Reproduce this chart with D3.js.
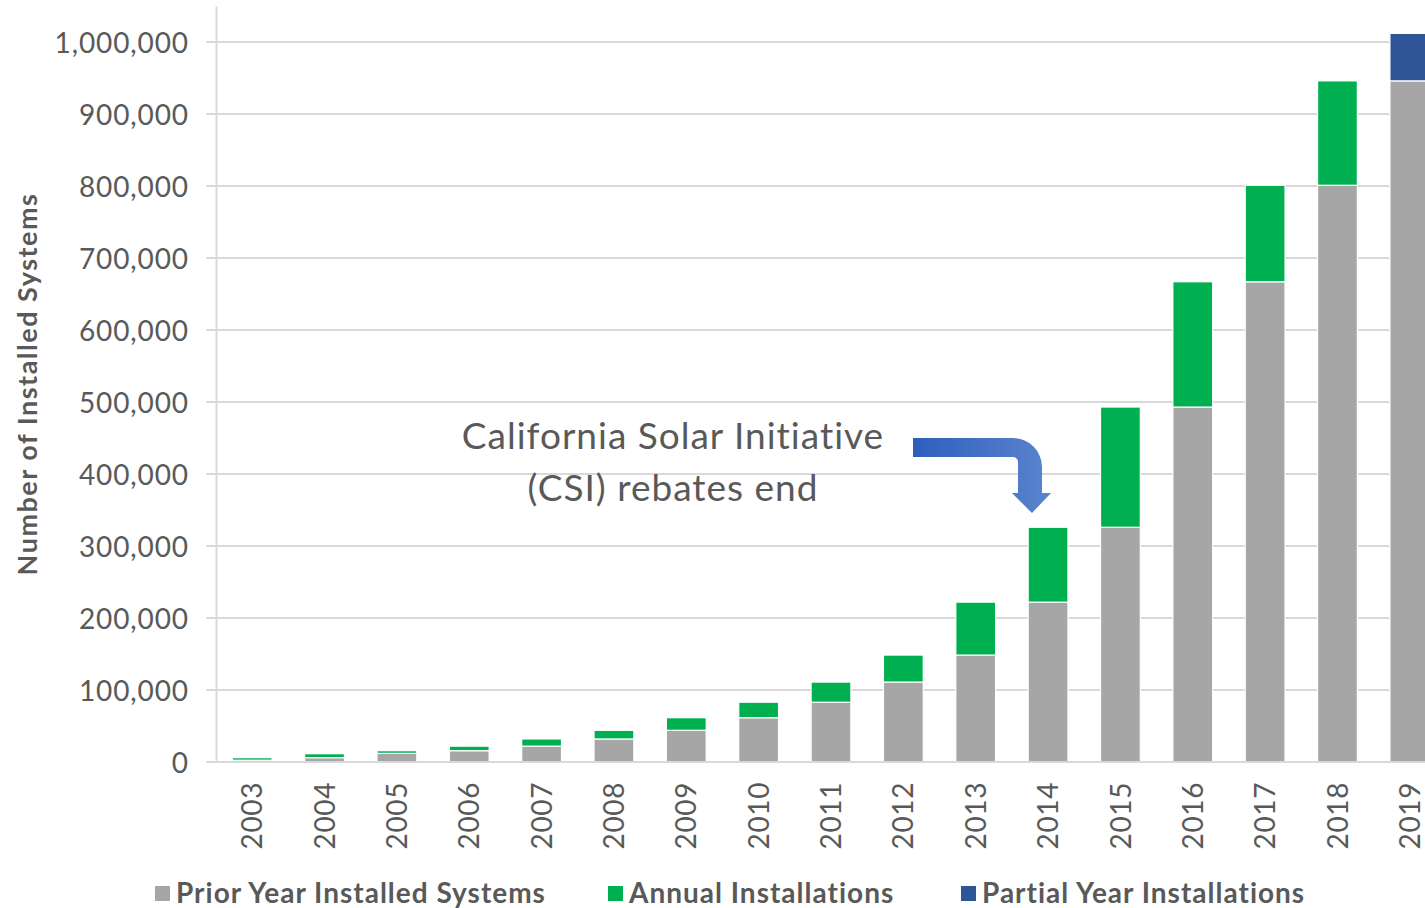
<!DOCTYPE html>
<html>
<head>
<meta charset="utf-8">
<script src="https://cdn.jsdelivr.net/npm/d3@7"></script>
<style>
  html, body { margin: 0; padding: 0; background: #fff; overflow: hidden; }
  svg { display: block; }
</style>
</head>
<body>
<svg id="chart" width="1425" height="908"></svg>
<script>
// ---- data ----
const years = ["2003","2004","2005","2006","2007","2008","2009","2010","2011","2012","2013","2014","2015","2016","2017","2018","2019"];
const priorYear = [2500, 6000, 12000, 15700, 22000, 32000, 44000, 61500, 83000, 111000, 148500, 222000, 326000, 493000, 667000, 801000, 946000];
const annual    = [3500, 5500, 3700, 6300, 10000, 12000, 17500, 21500, 28000, 37500, 73500, 104000, 167000, 174000, 134000, 145000, 0];
const partial   = [0, 0, 0, 0, 0, 0, 0, 0, 0, 0, 0, 0, 0, 0, 0, 0, 66000];
const yTicks = [0, 100000, 200000, 300000, 400000, 500000, 600000, 700000, 800000, 900000, 1000000];
const seriesNames = ["Prior Year Installed Systems", "Annual Installations", "Partial Year Installations"];
const seriesKeys = ["prior", "annual", "partial"];
const seriesColors = ["#a6a6a6", "#00b050", "#2f5597"];

const rows = years.map((y, i) => ({ year: y, prior: priorYear[i], annual: annual[i], partial: partial[i] }));

const svg = d3.select("#chart");
const textColor = "#595959";
const font = "Lato, 'Open Sans', sans-serif";

const x = d3.scaleBand().domain(years).range([216, 1446]).paddingInner(0.45).paddingOuter(0.225);
const y = d3.scaleLinear().domain([0, 1050000]).range([762, 6]);

// gridlines
svg.append("g").selectAll("line").data(yTicks.filter(d => d > 0)).join("line")
  .attr("x1", 206).attr("x2", 1425)
  .attr("y1", d => y(d)).attr("y2", d => y(d))
  .attr("stroke", "#d9d9d9").attr("stroke-width", 2);

// y axis
const yAxis = d3.axisLeft(y).tickValues(yTicks).tickFormat(d3.format(",")).tickSize(0).tickPadding(27);
const gy = svg.append("g").attr("transform", "translate(216,0)").call(yAxis);
gy.select(".domain").attr("stroke", "#d9d9d9").attr("stroke-width", 2);
gy.selectAll("text").attr("font-family", font).attr("font-size", 28).attr("letter-spacing", 0.9)
  .attr("fill", textColor).attr("dy", "0.36em");

// stacked bars
const stack = d3.stack().keys(seriesKeys);
const stacked = stack(rows);
svg.append("g").selectAll("g").data(stacked).join("g")
  .attr("fill", (d, i) => seriesColors[i])
  .selectAll("rect").data(d => d.filter(s => s[1] - s[0] > 0)).join("rect")
  .attr("x", d => x(d.data.year))
  .attr("width", x.bandwidth())
  .attr("y", d => y(d[1]))
  .attr("height", d => y(d[0]) - y(d[1]))
  .attr("stroke", "#ffffff").attr("stroke-width", 1.2);

// x axis
const xAxis = d3.axisBottom(x).tickSize(0).tickPadding(0);
const gx = svg.append("g").attr("transform", "translate(0,762)").call(xAxis);
gx.select(".domain").attr("d", "M206,0H1425").attr("stroke", "#d9d9d9").attr("stroke-width", 2);
gx.selectAll("text")
  .attr("font-family", font).attr("font-size", 28).attr("letter-spacing", 0.6).attr("fill", textColor)
  .attr("transform", "translate(0,20) rotate(-90)")
  .attr("text-anchor", "end").attr("x", 0).attr("y", 0).attr("dy", "0.36em");

// y axis title
svg.append("text")
  .attr("transform", "translate(27,384) rotate(-90)")
  .attr("text-anchor", "middle").attr("dy", "0.36em")
  .attr("font-family", font).attr("font-weight", "bold").attr("font-size", 27).attr("letter-spacing", 1.5)
  .attr("fill", textColor)
  .text("Number of Installed Systems");

// annotation
svg.append("text").attr("x", 673).attr("y", 449).attr("text-anchor", "middle")
  .attr("font-family", font).attr("font-size", 37).attr("letter-spacing", 1).attr("fill", textColor)
  .text("California Solar Initiative");
svg.append("text").attr("x", 673).attr("y", 501).attr("text-anchor", "middle")
  .attr("font-family", font).attr("font-size", 37).attr("letter-spacing", 1).attr("fill", textColor)
  .text("(CSI) rebates end");

const defs = svg.append("defs");
const grad = defs.append("linearGradient").attr("id", "arrowGrad").attr("x1", "0%").attr("x2", "100%");
grad.append("stop").attr("offset", "0%").attr("stop-color", "#2f5fbe");
grad.append("stop").attr("offset", "100%").attr("stop-color", "#5a84cd");
svg.append("path")
  .attr("d", "M913,438 H1013 A29,29 0 0 1 1042,467 V493 H1051 L1032,513 L1012,493 H1018 V462 A5,5 0 0 0 1013,457 H913 Z")
  .attr("fill", "url(#arrowGrad)");

// legend
const legendX = [155, 608, 961];
const lg = svg.append("g").selectAll("g").data(seriesNames).join("g")
  .attr("transform", (d, i) => `translate(${legendX[i]},0)`);
lg.append("rect").attr("x", 0).attr("y", 886).attr("width", 15).attr("height", 15)
  .attr("fill", (d, i) => seriesColors[i]);
lg.append("text").attr("x", 21).attr("y", 903)
  .attr("font-family", font).attr("font-weight", "bold").attr("font-size", 28).attr("letter-spacing", 1)
  .attr("fill", textColor)
  .text(d => d);
</script>
</body>
</html>
